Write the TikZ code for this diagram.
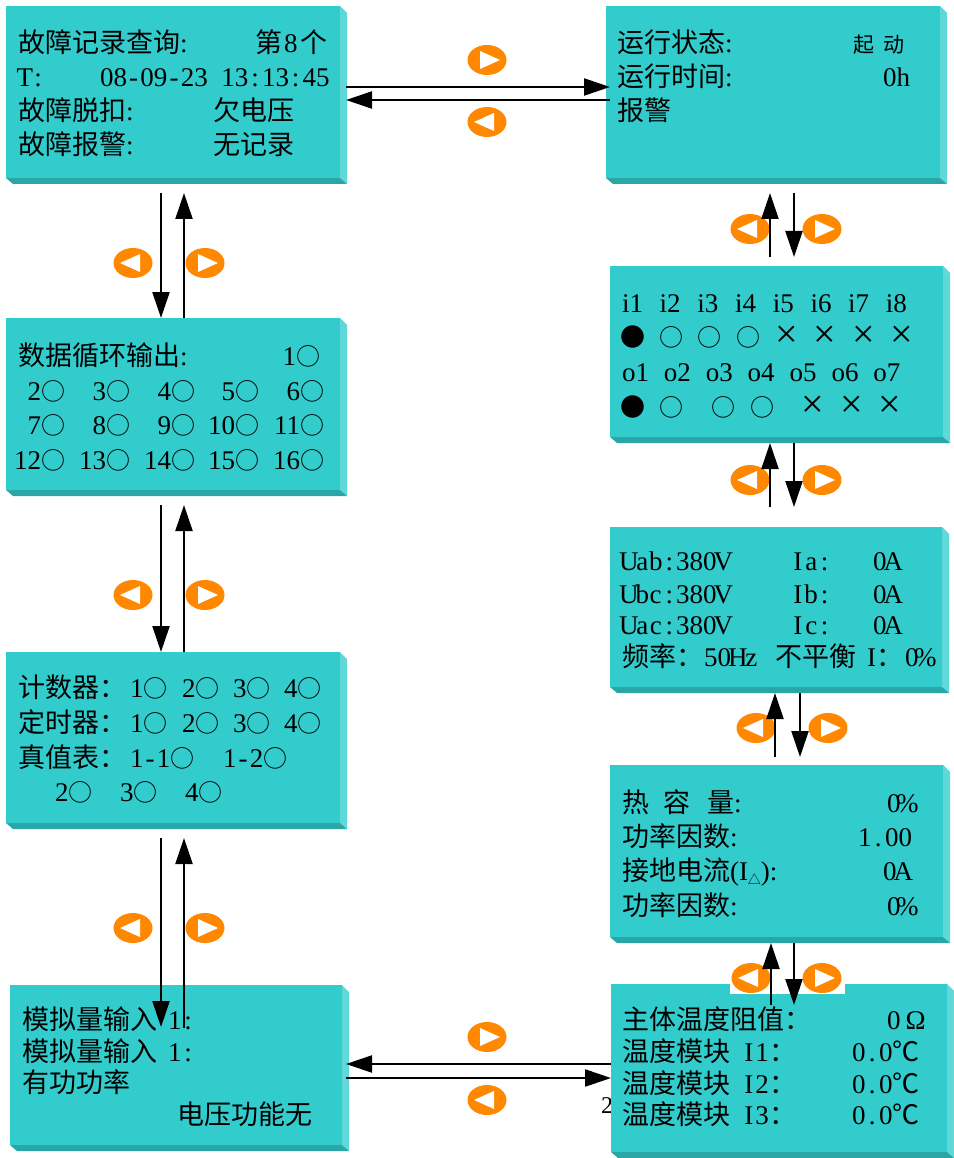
\documentclass[tikz,border=0pt]{standalone}
\usepackage{fontspec}
\setmainfont{Liberation Serif}
\newfontfamily\cjk{Noto Sans CJK SC}
\usetikzlibrary{arrows.meta,shapes.geometric,fit}
\definecolor{frontc}{HTML}{33CCCC}
\definecolor{sidec}{HTML}{5ED8D8}
\definecolor{bottomc}{HTML}{2AA6A6}
\definecolor{orangec}{HTML}{FF8800}
\newcommand\zh[1]{{\cjk #1}}
\newcommand\fs{\fontsize{27}{27}\selectfont}
\newcommand\oc{{\cjk\fontsize{24}{24}\selectfont ○}}
\newcommand\dc{{\cjk\fontsize{25}{25}\selectfont ●}}
\newcommand\xc{{\fontsize{40}{40}\selectfont ×}}
\ExplSyntaxOn
\NewDocumentCommand\mono{m}{ \tl_map_inline:nn {#1} { \makebox[13.5pt]{##1} } }
\ExplSyntaxOff
\newcommand\panel[5]{%
  \fill[sidec] (#4,#3) -- (#4+7,#3+7) -- (#4+7,#5+6) -- (#4,#5) -- cycle;
  \fill[bottomc] (#2,#5) -- (#4,#5) -- (#4+7,#5+6) -- (#2+7,#5+6) -- cycle;
  \node[frontface, fit={(#2,#3) (#4,#5)}] (#1) {};
}
\newcommand\markR[3]{%
  \node[marker] (#1) at (#2,#3) {};
  \fill[white] (#2+13,#3) -- (#2-7,#3-9) -- (#2-7,#3+9) -- cycle;
}
\newcommand\markL[3]{%
  \node[marker] (#1) at (#2,#3) {};
  \fill[white] (#2-13,#3) -- (#2+7,#3-9) -- (#2+7,#3+9) -- cycle;
}
\begin{document}
\begin{tikzpicture}[x=1pt,y=-1pt,
  frontface/.style={fill=frontc, draw=none, inner sep=0pt, outer sep=0pt},
  marker/.style={ellipse, fill=orangec, draw=none, minimum width=39pt, minimum height=30pt, inner sep=0pt},
  txt/.style={anchor=base west, inner sep=0pt, outer sep=0pt, font=\fs},
  rtxt/.style={anchor=base east, inner sep=0pt, outer sep=0pt, font=\fs},
  sym/.style={anchor=center, inner sep=0pt, outer sep=0pt},
  conn/.style={line width=2.2pt, -{Triangle[length=26pt,width=17pt]}}
]
\useasboundingbox (0,0) rectangle (953,1158);
\fill[white] (0,0) rectangle (953,1158);

% stray label partly hidden
\node[txt, font=\fontsize{24}{24}\selectfont] (stray) at (601,1113) {2};

% panels
\panel{pFault}{6}{6}{340}{178}
\panel{pRun}{606}{6}{940}{178}
\panel{pIO}{610}{266}{943}{437}
\panel{pVolt}{610}{527}{942}{687}
\panel{pHeat}{610}{765}{943}{937}
\panel{pTemp}{611}{984}{947}{1152}
\panel{pData}{6}{318}{340}{490}
\panel{pCount}{6}{652}{340}{823}
\panel{pAnalog}{10}{985}{342}{1145}

% panel 1
\node[txt] (f1) at (18,53) {\zh{故障记录查询}:};
\node[txt] (f1b) at (255,53) {\zh{第}\hspace{2pt}8\hspace{3pt}\zh{个}};
\node[txt] (f2) at (18,87) {\mono{T:}};
\node[txt] (f2b) at (100,87) {\mono{08-09-23~13:13:45}};
\node[txt] (f3) at (18,121) {\zh{故障脱扣}:};
\node[txt] (f3b) at (213,121) {\zh{欠电压}};
\node[txt] (f4) at (18,155) {\zh{故障报警}:};
\node[txt] (f4b) at (213,155) {\zh{无记录}};

% run panel
\node[txt] (r1) at (617,53) {\zh{运行状态}:};
\node[txt, font=\fontsize{21}{21}\selectfont] (r1b) at (853,53) {\zh{起}};
\node[txt, font=\fontsize{21}{21}\selectfont] (r1c) at (883,53) {\zh{动}};
\node[txt] (r2) at (617,87) {\zh{运行时间}:};
\node[txt] (r2b) at (883,87) {\mono{0h}};
\node[txt] (r3) at (617,121) {\zh{报警}};

% IO panel
\foreach \k in {1,...,8} {
  \node[txt] (in\k) at ({622+37.7*(\k-1)},312) {i\k};
}
\node[sym] (s1) at (633,337) {\dc};
\node[sym] (s2) at (671,337) {\oc};
\node[sym] (s3) at (709,337) {\oc};
\node[sym] (s4) at (748,337) {\oc};
\node[sym] (s5) at (787,337) {\xc};
\node[sym] (s6) at (825,337) {\xc};
\node[sym] (s7) at (864,337) {\xc};
\node[sym] (s8) at (902,337) {\xc};
\foreach \k in {1,...,7} {
  \node[txt] (out\k) at ({622+41.9*(\k-1)},381) {o\k};
}
\node[sym] (q1) at (633,407) {\dc};
\node[sym] (q2) at (671,407) {\oc};
\node[sym] (q3) at (723,407) {\oc};
\node[sym] (q4) at (762,407) {\oc};
\node[sym] (q5) at (813,407) {\xc};
\node[sym] (q6) at (852,407) {\xc};
\node[sym] (q7) at (890,407) {\xc};

% data panel
\node[txt] (d0) at (18,365) {\zh{数据循环输出}:};
\node[rtxt] (d1) at (320,365) {1\oc};
\node[rtxt] (d2) at (65,400) {2\oc};
\node[rtxt] (d3) at (130,400) {3\oc};
\node[rtxt] (d4) at (195,400) {4\oc};
\node[rtxt] (d5) at (259,400) {5\oc};
\node[rtxt] (d6) at (324,400) {6\oc};
\node[rtxt] (d7) at (65,434) {7\oc};
\node[rtxt] (d8) at (130,434) {8\oc};
\node[rtxt] (d9) at (195,434) {9\oc};
\node[rtxt] (d10) at (259,434) {10\oc};
\node[rtxt] (d11) at (324,434) {11\oc};
\node[rtxt] (d12) at (65,469) {12\oc};
\node[rtxt] (d13) at (130,469) {13\oc};
\node[rtxt] (d14) at (195,469) {14\oc};
\node[rtxt] (d15) at (259,469) {15\oc};
\node[rtxt] (d16) at (324,469) {16\oc};

% counter panel
\node[txt] (c1) at (18,697) {\zh{计数器：}};
\node[txt] (c2) at (18,732) {\zh{定时器：}};
\node[txt] (c3) at (18,767) {\zh{真值表：}};
\foreach \y/\n in {697/a,732/b} {
  \node[txt] (c\n1) at (130,\y) {1\oc};
  \node[txt] (c\n2) at (182,\y) {2\oc};
  \node[txt] (c\n3) at (233,\y) {3\oc};
  \node[txt] (c\n4) at (284,\y) {4\oc};
}
\node[txt] (cc1) at (130,767) {\mono{1-1}\oc};
\node[txt] (cc2) at (223,767) {\mono{1-2}\oc};
\node[txt] (cd2) at (55,801) {2\oc};
\node[txt] (cd3) at (120,801) {3\oc};
\node[txt] (cd4) at (185,801) {4\oc};

% analog panel
\node[txt] (m1) at (22,1029) {\zh{模拟量输入}\hspace{11pt}\mono{1:}};
\node[txt] (m2) at (22,1061) {\zh{模拟量输入}\hspace{11pt}\mono{1:}};
\node[txt] (m3) at (22,1092) {\zh{有功功率}};
\node[txt] (m4) at (177,1124) {\zh{电压功能无}};

% voltage panel
\node[txt] (v1) at (622,570) {\mono{Uab:380V}};
\node[txt] (v1b) at (791,570) {\mono{Ia:}};
\node[txt] (v1c) at (873,570) {\mono{0A}};
\node[txt] (v2) at (622,603) {\mono{Ubc:380V}};
\node[txt] (v2b) at (791,603) {\mono{Ib:}};
\node[txt] (v2c) at (873,603) {\mono{0A}};
\node[txt] (v3) at (622,634) {\mono{Uac:380V}};
\node[txt] (v3b) at (791,634) {\mono{Ic:}};
\node[txt] (v3c) at (873,634) {\mono{0A}};
\node[txt] (v4) at (622,666) {\zh{频率：}};
\node[txt] (v4b) at (704,666) {\mono{50Hz}};
\node[txt] (v4c) at (775,666) {\zh{不平衡}};
\node[txt] (v4d) at (867,666) {I\zh{：}};
\node[txt] (v4e) at (905,666) {\mono{0\%}};

% heat panel
\node[txt] (h1) at (622,812) {\zh{热}};
\node[txt] (h1b) at (663,812) {\zh{容}};
\node[txt] (h1c) at (707,812) {\zh{量}:};
\node[txt] (h1d) at (887,812) {\mono{0\%}};
\node[txt] (h2) at (622,846) {\zh{功率因数}:};
\node[txt] (h2b) at (858,846) {\mono{1.00}};
\node[txt] (h3) at (622,880) {\zh{接地电流}(I\raisebox{-4pt}{\fontsize{13}{13}\selectfont\zh{△}}):};
\node[txt] (h3b) at (883,880) {\mono{0A}};
\node[txt] (h4) at (622,915) {\zh{功率因数}:};
\node[txt] (h4b) at (887,915) {\mono{0\%}};

% temperature panel
\node[txt] (t1) at (622,1029) {\zh{主体温度阻值：}};
\node[txt] (t1b) at (887,1029) {0\hspace{5pt}Ω};
\node[txt] (t2) at (622,1061) {\zh{温度模块}\hspace{12pt}\mono{I1}\zh{：}};
\node[txt] (t2b) at (852,1061) {\mono{0.0}\zh{℃}};
\node[txt] (t3) at (622,1093) {\zh{温度模块}\hspace{12pt}\mono{I2}\zh{：}};
\node[txt] (t3b) at (852,1093) {\mono{0.0}\zh{℃}};
\node[txt] (t4) at (622,1124) {\zh{温度模块}\hspace{12pt}\mono{I3}\zh{：}};
\node[txt] (t4b) at (852,1124) {\mono{0.0}\zh{℃}};

% white patch over the last panel
\fill[white] (730,944) rectangle (845,994);

% markers
\markR{mT1}{487}{60}
\markL{mT2}{487}{122}
\markL{mL1a}{133}{263}
\markR{mL1b}{205}{263}
\markL{mL2a}{133}{595}
\markR{mL2b}{205}{595}
\markL{mL3a}{133}{928}
\markR{mL3b}{205}{928}
\markL{mR1a}{750}{229}
\markR{mR1b}{822}{229}
\markL{mR2a}{750}{480}
\markR{mR2b}{822}{480}
\markL{mR3a}{756}{728}
\markR{mR3b}{828}{728}
\markL{mR4a}{751}{978}
\markR{mR4b}{822}{978}
\markR{mB1}{487}{1037}
\markL{mB2}{487}{1100}

% connector end points
\coordinate (h1s) at (346,87);   \coordinate (h1e) at (610,87);
\coordinate (h2s) at (610,100);  \coordinate (h2e) at (346,100);
\coordinate (g1s) at (611,1064); \coordinate (g1e) at (346,1064);
\coordinate (g2s) at (346,1078); \coordinate (g2e) at (611,1078);
\coordinate (l1s) at (161,193);  \coordinate (l1e) at (161,318);
\coordinate (l2s) at (184,318);  \coordinate (l2e) at (184,193);
\coordinate (l3s) at (161,505);  \coordinate (l3e) at (161,652);
\coordinate (l4s) at (184,652);  \coordinate (l4e) at (184,505);
\coordinate (l5s) at (161,838);  \coordinate (l5e) at (161,1027);
\coordinate (l6s) at (184,1028); \coordinate (l6e) at (184,838);
\coordinate (r1s) at (770,257);  \coordinate (r1e) at (770,193);
\coordinate (r2s) at (794,193);  \coordinate (r2e) at (794,257);
\coordinate (r3s) at (770,507);  \coordinate (r3e) at (770,443);
\coordinate (r4s) at (794,443);  \coordinate (r4e) at (794,507);
\coordinate (r5s) at (775,757);  \coordinate (r5e) at (775,693);
\coordinate (r6s) at (800,693);  \coordinate (r6e) at (800,757);
\coordinate (r7s) at (771,1005); \coordinate (r7e) at (771,943);
\coordinate (r8s) at (794,943);  \coordinate (r8e) at (794,1005);

\foreach \a in {h1,h2,g1,g2,l1,l2,l3,l4,l5,l6,r1,r2,r3,r4,r5,r6,r7,r8} {
  \draw[conn] (\a s) -- (\a e);
}
\end{tikzpicture}
\end{document}
